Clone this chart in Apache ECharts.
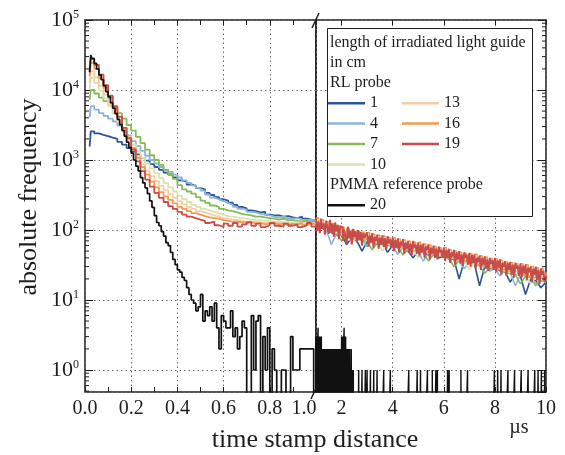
<!DOCTYPE html>
<html><head><meta charset="utf-8">
<script src="https://cdn.jsdelivr.net/npm/echarts@6/dist/echarts.min.js"></script>
<style>html,body{margin:0;padding:0;background:#fff}#c{width:565px;height:455px}</style>
</head><body><div id="c"></div>
<script>
// ---------- data ----------
const seriesNames = ['1', '4', '7', '10', '13', '16', '19', '20'];
const seriesColors = ['#2d5596', '#8db2e0', '#86bb57', '#d8e2b0', '#f6cea6', '#f39b4f', '#c84d4a', '#111111'];
const xTickLabelsLeft = ['0.0', '0.2', '0.4', '0.6', '0.8', '1.0'];
const xTickLabelsRight = [2, 4, 6, 8, 10];

// left part (0 .. 1 us): bin starts
const leftX = [0.02, 0.025, 0.04, 0.06, 0.08, 0.10, 0.12, 0.14, 0.16, 0.18, 0.20, 0.22, 0.24, 0.26, 0.28, 0.30, 0.32, 0.34, 0.36, 0.38, 0.40, 0.42, 0.44, 0.46, 0.48, 0.50, 0.52, 0.54, 0.56, 0.58, 0.60, 0.62, 0.64, 0.66, 0.68, 0.70, 0.72, 0.74, 0.76, 0.78, 0.80, 0.82, 0.84, 0.86, 0.88, 0.90, 0.92, 0.94, 0.96, 0.98, 1.00];
const s1Left = [1550,2570,2400,2290,2190,2090,2000,1820,1660,1480,1320,1200,1070,977,871,794,724,661,617,562,513,490,447,427,398,380,339,316,295,275,263,245,229,214,204,191,186,178,182,166,162,162,155,158,151,148,155,145,141,135,132];
const s4Left = [4070,5890,5250,4680,4270,3890,3550,3090,2630,2240,1860,1580,1350,1150,1000,891,794,724,676,617,562,513,470,435,400,365,320,290,275,258,243,229,214,200,195,182,178,170,166,162,155,151,155,148,145,148,141,138,141,135,132];
const s7Left = [7240,10000,8910,7760,6920,6170,5500,4680,3890,3160,2630,2140,1740,1410,1170,1000,851,724,631,537,437,380,355,331,295,263,245,224,214,200,191,186,178,170,166,162,155,155,151,148,145,141,145,138,138,135,132,135,129,132,126];
const s10Left = [10000,14800,12600,9770,7590,5890,4570,3550,2750,2140,1660,1320,1070,891,759,646,550,468,407,355,309,275,251,229,214,200,191,182,174,166,158,155,151,148,145,141,138,138,135,135,132,132,129,129,126,129,126,123,126,123,123];
const s13Left = [12600,18600,15100,11500,8510,6310,4680,3470,2570,1910,1410,1100,871,708,589,501,427,372,324,288,257,234,214,200,186,178,170,162,155,148,145,141,138,135,132,132,129,129,126,126,123,126,123,123,120,123,120,120,123,117,120];
const s16Left = [15800,24500,20000,14800,10700,7760,5620,4070,2880,2090,1480,1070,794,617,490,407,347,302,269,240,214,200,186,174,166,158,151,148,145,138,135,132,132,129,126,129,123,126,120,123,126,120,123,117,123,120,126,117,123,120,123];
const s19Left = [17800,28200,22900,16600,11700,8300,5890,4170,2880,2040,1410,955,692,525,417,339,288,251,219,200,182,166,155,148,141,135,126,132,117,110,123,115,126,112,120,129,115,123,110,117,126,115,112,123,115,120,110,117,126,112,120];
// PMMA reference (20), left part: bins 0.02, 0.025, then 0.03 .. 1.00 step 0.01
const s20Left = [18000,31600,28000,24000,20000,16500,14000,11500,9500,8000,
  6600,5500,4600,3800,3200,2650,2200,1800,1500,1250,
  1000,820,700,560,470,400,330,260,210,160,
  128,115,95,82,66,60,48,38,32,27,
  25,21,19,15,12,10,9,7,8,12,
  5,7,6,8,5,9,4,2,6,5,
  4,4,7,3,4,2,3,5,4,0,
  0,6,1,5,6,0,3,1,4,0,
  2,1,0,0,1,1,0,0,3,1,
  1,1,2,2,2,2,2,2,0,3];

// right part (1 .. 10 us)
const s19Right = [150,96,132,90,146,104,124,86,136,108,88,140,92,122,80,128,96,118,74,114,
  108,70,100,82,64,112,76,98,62,104,80,96,66,100,72,94,60,90,78,86,
  92,58,84,66,90,56,80,70,86,54,78,62,84,58,76,52,82,64,74,56,
  78,50,72,56,76,48,68,60,74,46,66,54,70,48,64,44,70,56,62,46,
  66,42,62,48,64,40,58,52,62,38,56,46,60,40,54,38,58,48,52,40,
  56,36,52,40,54,34,48,42,52,32,48,38,50,33,45,31,48,40,44,32,
  47,30,44,34,45,28,40,35,43,27,40,32,42,28,38,26,40,33,37,27,
  40,25,37,29,38,23,34,30,36,22,34,27,35,23,32,21,34,28,31,22,
  33,21,31,24,32,19,29,25,30,18,28,23,30,19,27,17,28,23,26,18,22]; // step 0.05
const s16Right = [150,118,140,108,130,100,124,96,116,92,
  110,86,104,84,100,80,97,78,93,74,
  91,72,87,70,84,66,82,64,78,62,
  78,60,74,58,72,56,69,54,67,52,
  67,50,63,48,61,46,58,44,56,42,
  56,42,52,40,50,38,48,36,46,34,
  46,34,45,32,43,31,41,30,39,29,
  39,28,37,27,35,26,34,25,33,24,
  33,23,32,22,30,21,29,20,28,19,25]; // step 0.1
const s1Right = [125,108,98,92,84,86,62,78,70,50,68,70,62,64,48,60,56,58,50,40,50,48,44,46,40,42,40,38,20,36,34,33,16,30,28,29,26,25,18,24,22,12,20,19,15,18]; // step 0.2
const s4Right = [128,112,100,62,88,84,76,80,72,74,58,70,64,62,60,58,45,56,52,50,48,36,46,44,42,44,38,40,36,28,35,32,31,30,26,28,22,27,25,16,23,22,21,17,19,18];
const s7Right = [122,108,102,94,90,70,82,78,74,72,69,52,66,63,61,59,57,44,53,51,49,47,36,45,43,41,40,30,37,36,34,33,31,24,29,28,27,25,24,23,17,22,21,16,19,20];
const s10Right = [124,114,104,98,92,88,84,66,78,75,72,70,67,50,63,61,59,57,54,52,40,49,47,46,44,43,41,39,37,36,27,34,32,31,30,29,28,26,25,24,23,23,17,21,20,19];
const s13Right = [132,118,112,101,96,92,92,84,80,78,79,73,70,68,70,64,62,60,61,55,53,51,53,48,46,45,46,41,40,38,39,35,34,32,33,30,29,28,29,26,25,24,25,22,21,21];
// PMMA right: bins 1.00..2.46 (0.01 step), then single counts at listed bins, zero elsewhere
const s20RightDense = [2,0,3,0,3,1,0,3,4,0, 2,0,3,0,2,1,0,3,0,2, 0,3,0,2,0,1,2,0,2,0,
  1,0,2,0,2,0,1,2,0,2, 0,2,0,1,0,2,0,2,1,0, 2,0,1,0,2,0,2,0,1,2,
  0,2,0,1,0,2,0,1,2,0, 2,0,2,0,1,0,2,0,2,0, 1,2,0,2,0,1,0,2,0,2,
  0,1,0,2,0,2,1,0,2,0, 3,0,2,0,3,0,2,1,0,3, 4,0,3,0,2,0,3,0,2,0,
  2,0,1,0,2,0,1,0,2,0, 1,0,2,0,1,0,1,0,2,0, 1,0,1,0,1,0,1];
const s20RightOnes = [2.67,2.80,2.93,3.00,3.13,3.26,3.39,3.65,3.91,4.63,4.96,5.09,5.36,5.55,5.69,5.75,6.15,6.21,6.67,6.93,7.98,8.11,8.24,8.51,8.77,9.03,9.30,9.56,9.69,9.82,9.95];

// ---------- build ----------
const FONT = '"Liberation Serif", "DejaVu Serif", serif';
const TXT = '#1e1e1e';
const Y_MIN = 0.485, Y_MAX = 100000;
const ZERO_SHOW = 0.1; // zero counts drawn below the axis floor (clipped)
const G = { l: 85, t: 20, mid: 316, r: 546, b: 392 };
const show = v => (v <= 0 ? ZERO_SHOW : v);

const leftSets = [s1Left, s4Left, s7Left, s10Left, s13Left, s16Left, s19Left];
const rightSets = [[s1Right, 0.2, 1.6], [s4Right, 0.2, 1.6], [s7Right, 0.2, 1.6], [s10Right, 0.2, 1.6], [s13Right, 0.2, 1.6], [s16Right, 0.1, 1.5], [s19Right, 0.05, 1.9]];

const series = [];
leftSets.forEach((arr, k) => {
  series.push({ name: seriesNames[k], type: 'line', xAxisIndex: 0, yAxisIndex: 0, step: 'end', symbol: 'none',
    color: seriesColors[k], lineStyle: { width: 1.8 }, data: arr.map((v, i) => [leftX[i], show(v)]) });
  const [ra, st, w] = rightSets[k];
  series.push({ name: seriesNames[k], type: 'line', xAxisIndex: 2, yAxisIndex: 1, step: st < 0.15 ? 'end' : false, symbol: 'none',
    color: seriesColors[k], lineStyle: { width: w }, data: ra.map((v, i) => [+(1 + i * st).toFixed(3), show(v)]) });
});
// PMMA
const blackLeft = s20Left.map((v, i) => [i === 0 ? 0.02 : i === 1 ? 0.025 : +((i + 1) * 0.01).toFixed(2), show(v)]);
const onesSet = new Set(s20RightOnes.map(x => Math.round(x * 100)));
const blackRight = [];
for (let i = 0; i <= 900; i++) {
  const x = +(1 + i * 0.01).toFixed(2);
  const v = i < s20RightDense.length ? s20RightDense[i] : (onesSet.has(100 + i) ? 1 : 0);
  blackRight.push([x, show(v)]);
}
series.push({ name: '20', type: 'line', xAxisIndex: 0, yAxisIndex: 0, step: 'end', symbol: 'none', color: seriesColors[7], lineStyle: { width: 1.7 }, data: blackLeft });
series.push({ name: '20', type: 'line', xAxisIndex: 2, yAxisIndex: 1, step: 'end', symbol: 'none', color: seriesColors[7], lineStyle: { width: 1.4 }, data: blackRight });

const split = { show: true, lineStyle: { color: '#6a6a6a', width: 1, type: [1.5, 3] } };
const tick = { show: true, inside: true, length: 5, lineStyle: { color: TXT, width: 1 } };
const yFmt = v => {
  const e = Math.round(Math.log10(v));
  if (Math.abs(Math.log10(v) - e) > 1e-6) return '';
  return '{b|10}{s|' + e + '}';
};

const chart = echarts.init(document.getElementById('c'), null, { renderer: 'canvas' });
const option = {
  animation: false,
  backgroundColor: '#fff',
  grid: [
    { left: G.l, top: G.t, width: G.mid - G.l, height: G.b - G.t, show: true, borderColor: TXT, borderWidth: 1.5, backgroundColor: 'transparent' },
    { left: G.mid, top: G.t, width: G.r - G.mid, height: G.b - G.t, show: true, borderColor: TXT, borderWidth: 1.5, backgroundColor: 'transparent' }
  ],
  xAxis: [
    { type: 'value', gridIndex: 0, position: 'bottom', min: 0, max: 1, interval: 0.2,
      axisLine: { show: false }, axisTick: tick, minorTick: { show: true, splitNumber: 2, length: 5, lineStyle: { color: TXT, width: 1 } },
      splitLine: split,
      axisLabel: { color: TXT, fontFamily: FONT, fontSize: 20, margin: 7,
        formatter: v => { const s = xTickLabelsLeft[Math.round(v * 5)]; return Math.abs(v - 1) < 1e-9 ? '{r|' + s + '}' : s; },
        rich: { r: { fontFamily: FONT, fontSize: 20, color: TXT, padding: [0, 24, 0, 0] } } } },
    { type: 'value', gridIndex: 0, position: 'top', min: 0, max: 1, interval: 0.2,
      axisLine: { show: false }, axisTick: tick, minorTick: { show: true, splitNumber: 2, length: 5, lineStyle: { color: TXT, width: 1 } },
      splitLine: { show: false }, axisLabel: { show: false } },
    { type: 'value', gridIndex: 1, position: 'bottom', min: 1, max: 10,
      axisLine: { show: false }, axisTick: Object.assign({ customValues: xTickLabelsRight }, tick),
      splitLine: split,
      axisLabel: { customValues: xTickLabelsRight, color: TXT, fontFamily: FONT, fontSize: 20, margin: 7,
        formatter: v => (v < 1.5 ? '' : String(Math.round(v))) } },
    { type: 'value', gridIndex: 1, position: 'top', min: 1, max: 10,
      axisLine: { show: false }, axisTick: Object.assign({ customValues: xTickLabelsRight }, tick),
      splitLine: { show: false }, axisLabel: { show: false } }
  ],
  yAxis: [
    { type: 'log', logBase: 10, gridIndex: 0, position: 'left', min: Y_MIN, max: Y_MAX,
      axisLine: { show: false }, axisTick: { show: true, inside: true, length: 8, lineStyle: { color: TXT, width: 1 } },
      splitLine: split,
      axisLabel: { color: TXT, fontFamily: FONT, margin: 6, formatter: yFmt, showMinLabel: false,
        rich: { b: { fontFamily: FONT, fontSize: 22, lineHeight: 22, color: TXT },
                s: { fontFamily: FONT, fontSize: 12, lineHeight: 12, color: TXT, verticalAlign: 'top' } } } },
    { type: 'log', logBase: 10, gridIndex: 1, position: 'right', min: Y_MIN, max: Y_MAX,
      axisLine: { show: false }, axisTick: { show: true, inside: true, length: 8, lineStyle: { color: TXT, width: 1 } },
      splitLine: split, axisLabel: { show: false } }
  ],
  legend: [
    { data: ['1', '4', '7', '10'], orient: 'vertical', left: 328, top: 93 },
    { data: ['13', '16', '19'], orient: 'vertical', left: 402, top: 93 },
    { data: ['20'], orient: 'vertical', left: 328, top: 195 }
  ].map(l => Object.assign(l, { padding: 0, itemGap: 0, itemWidth: 37, itemHeight: 2.5, icon: 'rect', selectedMode: false, z: 20,
    textStyle: { fontFamily: FONT, fontSize: 16, color: TXT, lineHeight: 20.4 } })),
  series: series
};
chart.setOption(option);

// graphics: legend frame, legend headings, axis names, unit, axis break marks, log minor ticks
const g = [];
g.push({ type: 'rect', z: 10, shape: { x: 327.5, y: 28.5, width: 205, height: 188 }, style: { fill: '#fff', stroke: TXT, lineWidth: 1 } });
[['length of irradiated light guide', 43], ['in cm', 63], ['RL probe', 83], ['PMMA reference probe', 185]].forEach(([t, y]) => {
  g.push({ type: 'text', z: 21, x: 330, y: y, style: { text: t, font: '16px ' + FONT, fill: TXT, verticalAlign: 'middle', align: 'left' } });
});
g.push({ type: 'text', z: 21, x: 29, y: 197, rotation: Math.PI / 2, style: { text: 'absolute frequency', font: '26px ' + FONT, fill: TXT, align: 'center', verticalAlign: 'middle' } });
g.push({ type: 'text', z: 21, x: 315, y: 440, style: { text: 'time stamp distance', font: '26px ' + FONT, fill: TXT, align: 'center', verticalAlign: 'middle' } });
g.push({ type: 'text', z: 21, x: 519, y: 428, style: { text: 'µs', font: '20px ' + FONT, fill: TXT, align: 'center', verticalAlign: 'middle' } });
g.push({ type: 'line', z: 22, shape: { x1: G.mid - 4, y1: G.t + 8, x2: G.mid + 3, y2: G.t - 7 }, style: { stroke: TXT, lineWidth: 1.5 } });
g.push({ type: 'line', z: 22, shape: { x1: G.mid - 5, y1: G.b + 7, x2: G.mid + 2, y2: G.b - 8 }, style: { stroke: TXT, lineWidth: 1.5 } });
for (let e = -1; e <= 4; e++) {
  for (let k = 2; k <= 9; k++) {
    const v = k * Math.pow(10, e);
    if (v < Y_MIN || v > Y_MAX) continue;
    const py = chart.convertToPixel({ yAxisIndex: 0 }, v);
    g.push({ type: 'line', z: 5, shape: { x1: G.l, y1: py, x2: G.l + 4, y2: py }, style: { stroke: TXT, lineWidth: 1 } });
    g.push({ type: 'line', z: 5, shape: { x1: G.r, y1: py, x2: G.r - 4, y2: py }, style: { stroke: TXT, lineWidth: 1 } });
  }
}
chart.setOption({ graphic: { elements: g } });
</script>
</body></html>
